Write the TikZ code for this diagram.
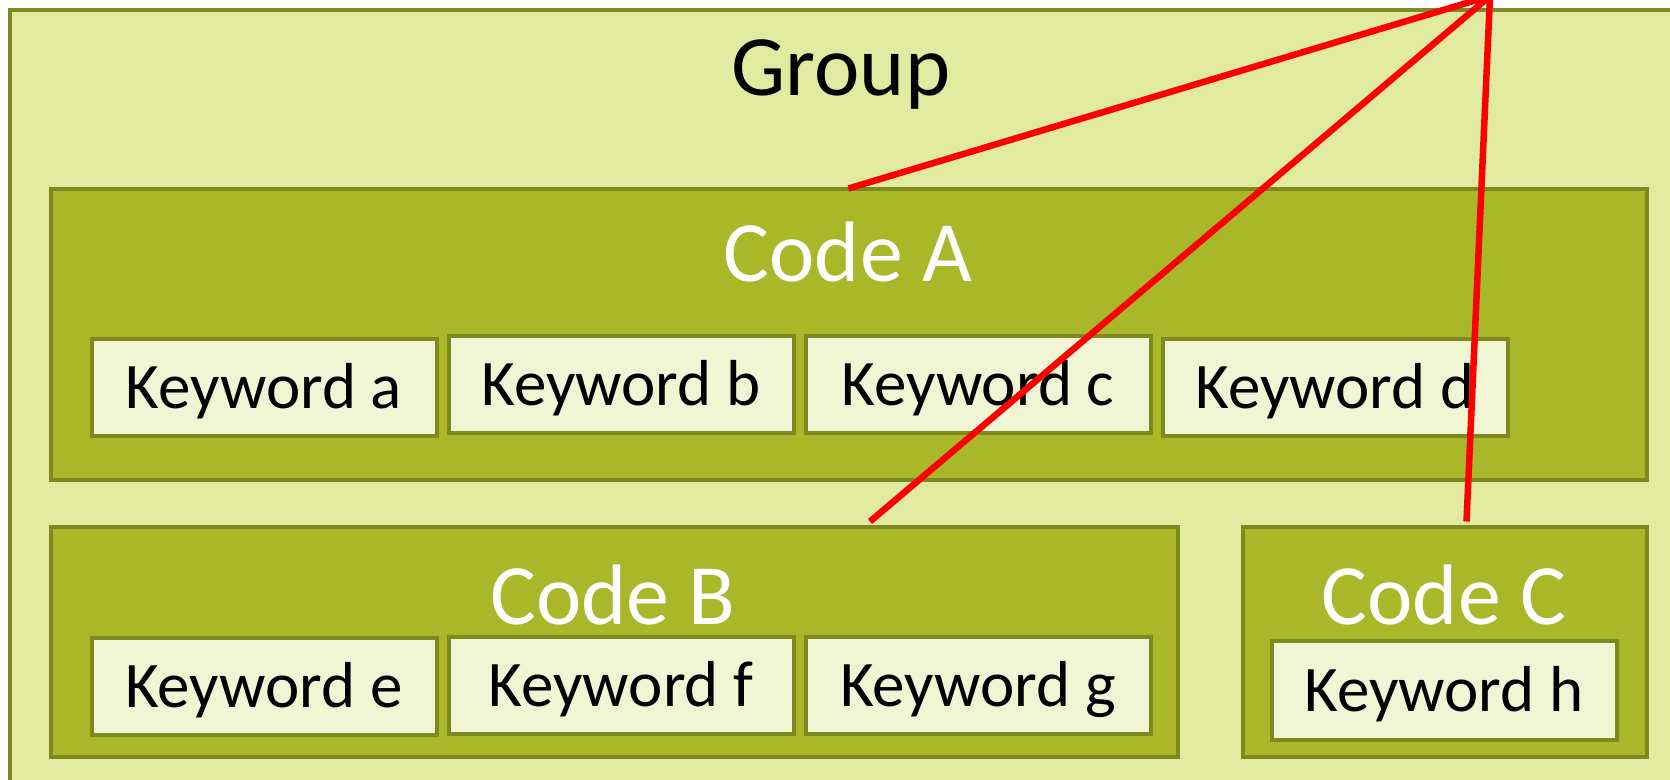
\documentclass[tikz,border=0pt]{standalone}
\usepackage{fontspec}
\setmainfont{Carlito}
\usetikzlibrary{calc}
\definecolor{grpfill}{HTML}{E0EAA0}
\definecolor{codefill}{HTML}{A8B828}
\definecolor{kwfill}{HTML}{F0F5D3}
\definecolor{edgecol}{HTML}{7E8A20}
\tikzset{
  boxbase/.style={rectangle, draw=edgecol, line width=4pt, inner sep=0pt, outer sep=0pt},
  grpbox/.style={boxbase, fill=grpfill, line width=4pt},
  codebox/.style={boxbase, fill=codefill},
  kwbox/.style={boxbase, fill=kwfill, minimum width=345pt, minimum height=97pt, text height=56pt, text depth=14pt, font=\fontsize{65}{74}\selectfont},
  codelabel/.style={text=white, inner sep=0pt, font=\fontsize{86}{96}\selectfont},
  grplabel/.style={text=black, inner sep=0pt, font=\fontsize{86}{96}\selectfont},
  redline/.style={draw=red, line width=6.5pt}
}
\begin{document}
\begin{tikzpicture}[x=1pt,y=-1pt]
\useasboundingbox (0,0) rectangle (1670,779);
\node[grpbox, minimum width=1680pt, minimum height=790pt] (group) at (850,405) {};
\node[grplabel] (grouplabel) at (841,75) {Group};
\node[codebox, minimum width=1596pt, minimum height=291pt] (codeA) at (848.5,334) {};
\node[codebox, minimum width=1127pt, minimum height=230pt] (codeB) at (614,641.5) {};
\node[codebox, minimum width=404pt, minimum height=230pt] (codeC) at (1444.5,641.5) {};
\node[codelabel] (labelA) at (848,252) {Code A};
\node[codelabel] (labelB) at (613,595) {Code B};
\node[codelabel] (labelC) at (1444,595) {Code C};
\node[kwbox] (kwa) at (264,387) {Keyword a};
\node[kwbox] (kwb) at (621,384.5) {Keyword b};
\node[kwbox] (kwc) at (978,384.5) {Keyword c};
\node[kwbox] (kwd) at (1335,387) {Keyword d};
\node[kwbox] (kwe) at (264,686.5) {Keyword e};
\node[kwbox] (kwf) at (621,685) {Keyword f};
\node[kwbox] (kwg) at (978,685) {Keyword g};
\node[kwbox, minimum height=99pt] (kwh) at (1444,690) {Keyword h};
\coordinate (apex) at (1490,-4);
\draw[redline] (codeA.north) -- (apex);
\draw[redline] ($(codeB.north)+(256,-5)$) -- (apex);
\draw[redline] ($(codeC.north)+(22,-5)$) -- (apex);
\end{tikzpicture}
\end{document}
